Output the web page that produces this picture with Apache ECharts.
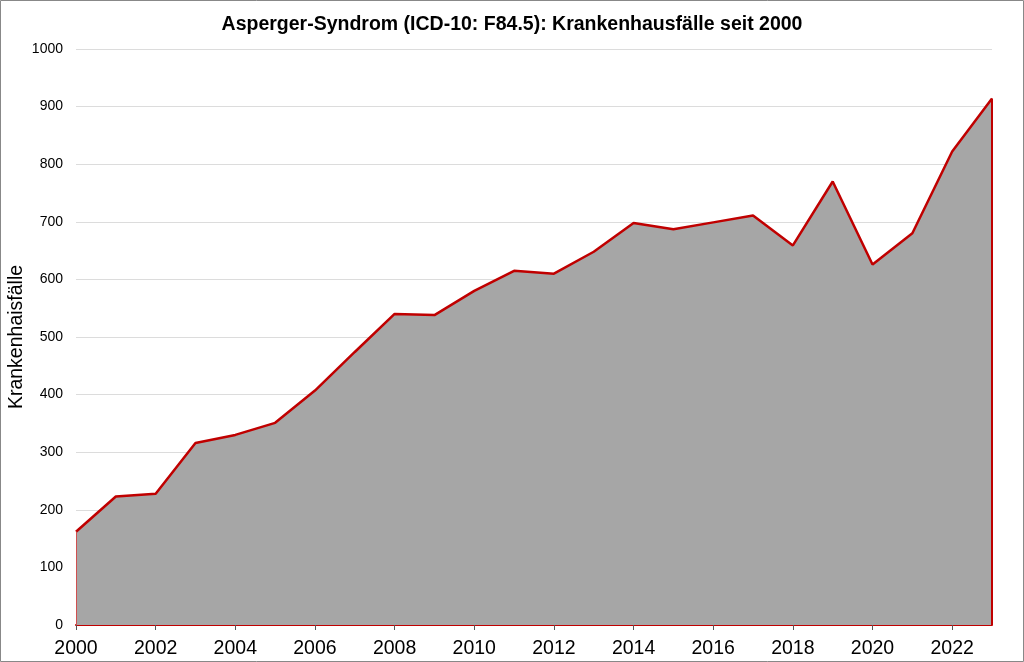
<!DOCTYPE html>
<html>
<head>
<meta charset="utf-8">
<script src="https://cdn.jsdelivr.net/npm/echarts@6/dist/echarts.min.js"></script>
<style>
html,body{margin:0;padding:0;background:#fff;}
#c{width:1024px;height:662px;}
</style>
</head>
<body>
<div id="c"></div>
<script>
const years = ['2000','2001','2002','2003','2004','2005','2006','2007','2008','2009','2010','2011','2012','2013','2014','2015','2016','2017','2018','2019','2020','2021','2022','2023'];
const cases = [162,223,228,316,330,351,407,474,540,538,580,615,610,648,698,687,699,711,659,770,626,680,822,914];
const yTicks = {min:0, max:1000, interval:100};

const chart = echarts.init(document.getElementById('c'));
const lastIdx = years.length - 1;
const FF = 'Liberation Sans, Arial, sans-serif';
chart.setOption({
  animation:false,
  title:{
    text:'Asperger-Syndrom (ICD-10: F84.5): Krankenhausfälle seit 2000',
    left:'center', top:10,
    textStyle:{fontFamily:FF, fontSize:19.5, fontWeight:'bold', color:'#000'}
  },
  graphic:[{type:'rect', shape:{x:0.5,y:0.5,width:1023,height:661}, style:{fill:'none', stroke:'#888', lineWidth:1}, silent:true}],
  grid:{left:76, right:32, top:49, bottom:37, outerBoundsMode:'none', containLabel:false},
  xAxis:{
    type:'category', data:years, boundaryGap:false,
    axisLine:{show:true, lineStyle:{color:'#c00000', width:2}},
    axisTick:{show:true, interval:1, length:5, lineStyle:{color:'#555'}},
    axisLabel:{interval:1, fontFamily:FF, fontSize:19.5, color:'#000', margin:14},
    splitLine:{show:false}
  },
  yAxis:{
    type:'value', min:yTicks.min, max:yTicks.max, interval:yTicks.interval,
    name:'Krankenhaisfälle', nameLocation:'middle', nameGap:49, nameMoveOverlap:false,
    nameTextStyle:{fontFamily:FF, fontSize:19.5, color:'#000'},
    axisLine:{show:false}, axisTick:{show:false},
    axisLabel:{fontFamily:FF, fontSize:14, color:'#000', margin:13, formatter:function(v){return String(v);}},
    splitLine:{lineStyle:{color:'#dcdcdc', width:1}}
  },
  series:[{
    type:'line', data:cases, symbol:'none',
    lineStyle:{color:'#c00000', width:2.5},
    areaStyle:{color:'#a6a6a6', opacity:1},
    markLine:{
      silent:true, symbol:'none', label:{show:false},
      data:[
        [{coord:[years[lastIdx],0], lineStyle:{color:'#c00000', width:2, type:'solid'}},{coord:[years[lastIdx],cases[lastIdx]]}],
        [{coord:[years[0],0], lineStyle:{color:'#d05050', width:1, type:'solid'}},{coord:[years[0],cases[0]]}]
      ]
    }
  }]
});
</script>
</body>
</html>
